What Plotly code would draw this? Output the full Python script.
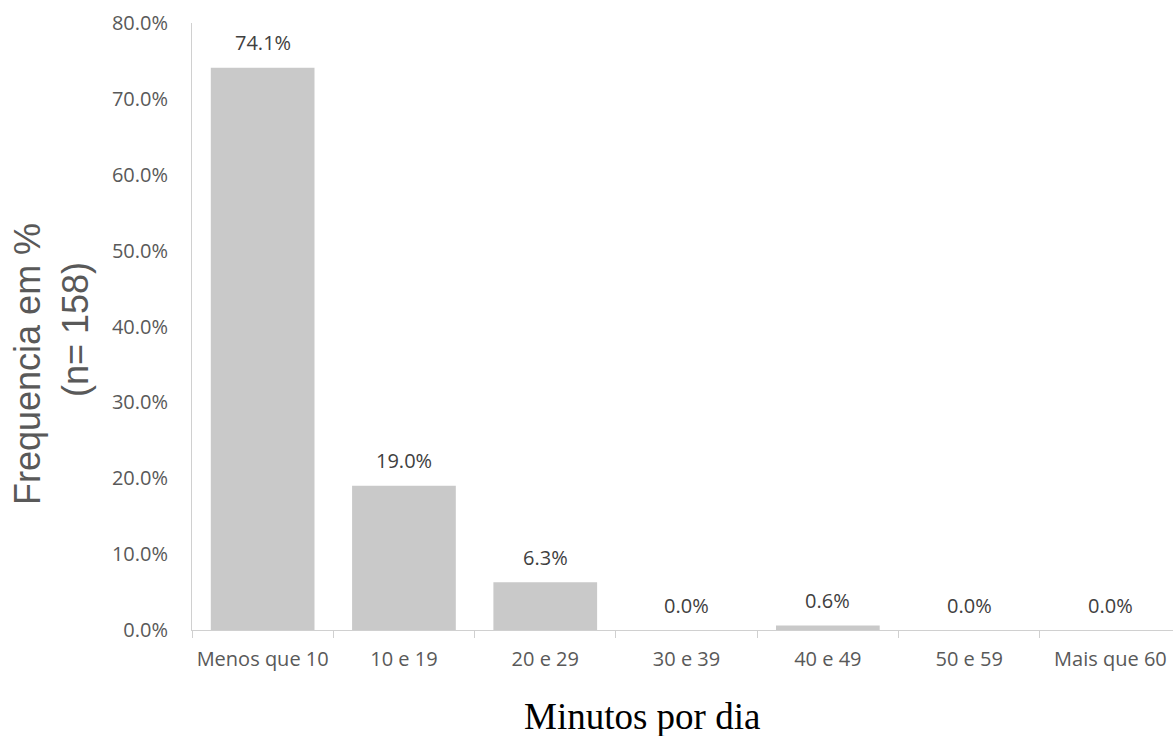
import plotly.graph_objects as go

# Daily minutes distribution (n = 158)
categories = ["Menos que 10", "10 e 19", "20 e 29", "30 e 39", "40 e 49", "50 e 59", "Mais que 60"]
shares = [0.741, 0.190, 0.063, 0.0, 0.006, 0.0, 0.0]

W, H = 1173, 736
L, R, T, B = 192, 0, 23, 106
plot_w = W - L - R
plot_h = H - T - B


def px_to_paper_x(px):
    return (px - L) / plot_w


def px_to_paper_y(py):
    return (H - B - py) / plot_h


fig = go.Figure()
fig.add_trace(go.Bar(
    x=categories,
    y=shares,
    marker=dict(color="#c9c9c9", line=dict(width=0)),
    hoverinfo="skip",
))

# value labels above each bar
for cat, val in zip(categories, shares):
    fig.add_annotation(
        x=cat, y=val, xref="x", yref="y",
        text=f"{val * 100:.1f}%",
        showarrow=False, yshift=25, yanchor="middle",
        font=dict(family="Open Sans", size=20, color="#404040"),
    )

# rotated y-axis title, two lines
fig.add_annotation(
    x=px_to_paper_x(27.5), y=px_to_paper_y(364.5), xref="paper", yref="paper",
    text="Frequencia em %", textangle=-90, showarrow=False,
    xanchor="center", yanchor="middle",
    font=dict(family="Liberation Sans", size=36, color="#595959"),
)
fig.add_annotation(
    x=px_to_paper_x(75), y=px_to_paper_y(330), xref="paper", yref="paper",
    text="(n= 158)", textangle=-90, showarrow=False,
    xanchor="center", yanchor="middle",
    font=dict(family="Liberation Sans", size=36, color="#595959"),
)

# x-axis title
fig.add_annotation(
    x=px_to_paper_x(641.5), y=px_to_paper_y(716), xref="paper", yref="paper",
    text="Minutos por dia", showarrow=False,
    xanchor="center", yanchor="middle",
    font=dict(family="Liberation Serif", size=37, color="#000000"),
)

fig.update_layout(
    width=W, height=H,
    margin=dict(l=L, r=R, t=T, b=B, pad=0),
    paper_bgcolor="white", plot_bgcolor="white",
    bargap=0.266,
    showlegend=False,
    xaxis=dict(
        type="category",
        range=[-0.5, -0.5 + plot_w / 141.3],
        showline=True, linecolor="#d0d0d0", linewidth=1,
        ticks="outside", tickson="boundaries", ticklen=7, tickcolor="#d0d0d0",
        tickfont=dict(family="Open Sans", size=20, color="#595959"),
        ticklabelstandoff=11,
        showgrid=False, zeroline=False,
    ),
    yaxis=dict(
        range=[0, 0.8], dtick=0.1, tickformat=".1%",
        showline=True, linecolor="#d0d0d0", linewidth=1,
        ticks="", showgrid=False, zeroline=False,
        tickfont=dict(family="Open Sans", size=20, color="#595959"),
        ticklabelstandoff=19,
    ),
)

fig.write_html("out.html")
